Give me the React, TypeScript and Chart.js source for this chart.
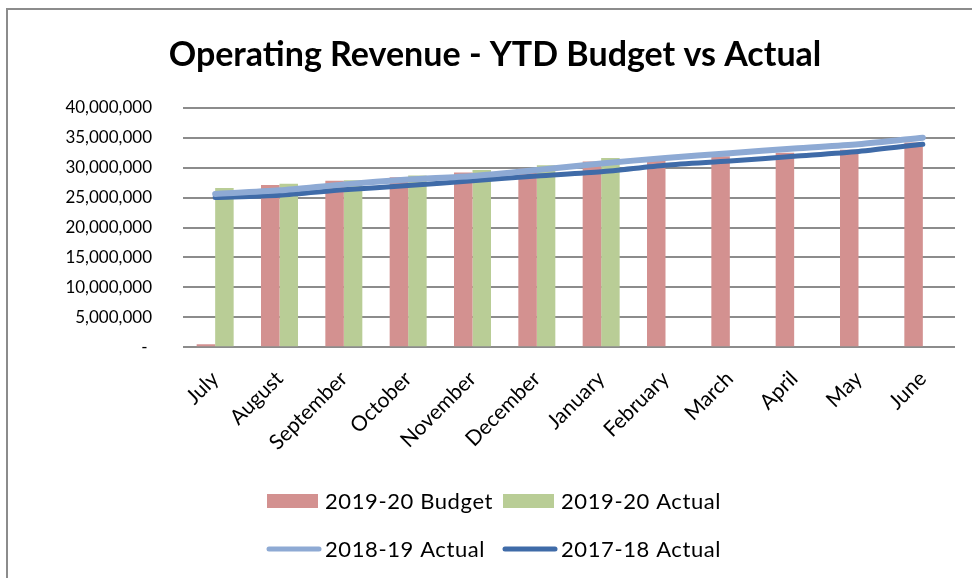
import React, { useEffect, useRef } from 'react';
import { Chart, registerables } from 'chart.js';

Chart.register(...registerables);

const months = ['July', 'August', 'September', 'October', 'November', 'December', 'January', 'February', 'March', 'April', 'May', 'June'];
const budget1920 = [500000, 27100000, 27800000, 28400000, 29200000, 29800000, 31000000, 31500000, 31900000, 32500000, 33000000, 34200000];
const actual1920 = [26600000, 27300000, 27900000, 28700000, 29600000, 30400000, 31600000, null, null, null, null, null];
const actual1819 = [25600000, 26200000, 27200000, 28000000, 28600000, 29600000, 30700000, 31600000, 32400000, 33200000, 33900000, 35000000];
const actual1718 = [25000000, 25400000, 26300000, 27000000, 27800000, 28600000, 29300000, 30400000, 31100000, 31900000, 32700000, 33900000];
const seriesLabels = ['2019-20 Budget', '2019-20 Actual', '2018-19 Actual', '2017-18 Actual'];
const titleText = 'Operating Revenue - YTD Budget vs Actual';

const FONT = 'Lato, "Open Sans", sans-serif';

const legendPlugin = {
  id: 'excelLegend',
  afterDraw(chart: any) {
    const ctx = chart.ctx;
    const ds = chart.data.datasets;
    const cols = [259, 495];
    const rows = [491, 539];
    ctx.save();
    ctx.font = `22px ${FONT}`;
    try { (ctx as any).letterSpacing = '0.6px'; } catch (e) {}
    ctx.textBaseline = 'middle';
    ctx.textAlign = 'left';
    ds.forEach((d: any, i: number) => {
      const x = cols[i % 2];
      const y = rows[Math.floor(i / 2)];
      if (d.type === 'line') {
        ctx.strokeStyle = d.borderColor;
        ctx.lineWidth = 5;
        ctx.lineCap = 'round';
        ctx.beginPath();
        ctx.moveTo(x + 2, y);
        ctx.lineTo(x + 52, y);
        ctx.stroke();
      } else {
        ctx.fillStyle = d.backgroundColor;
        ctx.fillRect(x, y - 7, 51, 14);
      }
      ctx.fillStyle = '#000';
      ctx.fillText(d.label, x + 58, y + 1);
    });
    ctx.restore();
  },
};

export default function App() {
  const ref = useRef<HTMLCanvasElement>(null);
  useEffect(() => {
    if (!ref.current) return;
    const chart = new Chart(ref.current, {
      type: 'bar',
      data: {
        labels: months,
        datasets: [
          { type: 'bar', label: seriesLabels[0], data: budget1920, backgroundColor: '#d39190', order: 2, categoryPercentage: 0.575, barPercentage: 1 } as any,
          { type: 'bar', label: seriesLabels[1], data: actual1920, backgroundColor: '#b9cd96', order: 3, categoryPercentage: 0.575, barPercentage: 1 } as any,
          { type: 'line', label: seriesLabels[2], data: actual1819, borderColor: '#8eaad4', borderWidth: 6, pointRadius: 0, tension: 0.25, borderCapStyle: 'round', order: 0 } as any,
          { type: 'line', label: seriesLabels[3], data: actual1718, borderColor: '#3f6ba8', borderWidth: 5, pointRadius: 0, tension: 0.25, borderCapStyle: 'round', order: 1 } as any,
        ],
      },
      options: {
        responsive: false,
        animation: false,
        layout: { padding: { left: 27, right: 17, top: 0, bottom: 0 } },
        plugins: {
          legend: { display: false },
          tooltip: { enabled: false },
          title: {
            display: true,
            text: titleText,
            color: '#000',
            font: { family: FONT, size: 34, weight: 'bold', lineHeight: 1.2 },
            padding: { top: 25, bottom: 31.9 },
          },
        },
        scales: {
          x: {
            grid: { display: false, drawTicks: false },
            border: { display: false },
            ticks: {
              color: '#000',
              font: { family: FONT, size: 21 },
              minRotation: 45,
              maxRotation: 45,
              padding: 19,
              autoSkip: false,
            },
            afterFit: (s: any) => { s.height = 230.7; },
          },
          y: {
            min: 0,
            max: 40000000,
            grid: { color: '#8c8c8c', lineWidth: 2, drawTicks: false },
            border: { display: false },
            ticks: {
              stepSize: 5000000,
              color: '#000',
              font: { family: FONT, size: 17 },
              padding: 31,
              callback: (v: any) => (Number(v) === 0 ? '- ' : Number(v).toLocaleString('en-US')),
            },
            afterFit: (s: any) => { s.width = 148; },
          },
        },
      },
      plugins: [legendPlugin],
    });
    return () => chart.destroy();
  }, []);

  return (
    <div style={{ position: 'fixed', left: 6, top: 8, width: 966, height: 572, borderTop: '2px solid #8c8c8c', borderLeft: '2px solid #8c8c8c', background: '#fff' }}>
      <canvas ref={ref} width={964} height={568} style={{ display: 'block', width: 964, height: 568 }} />
    </div>
  );
}
